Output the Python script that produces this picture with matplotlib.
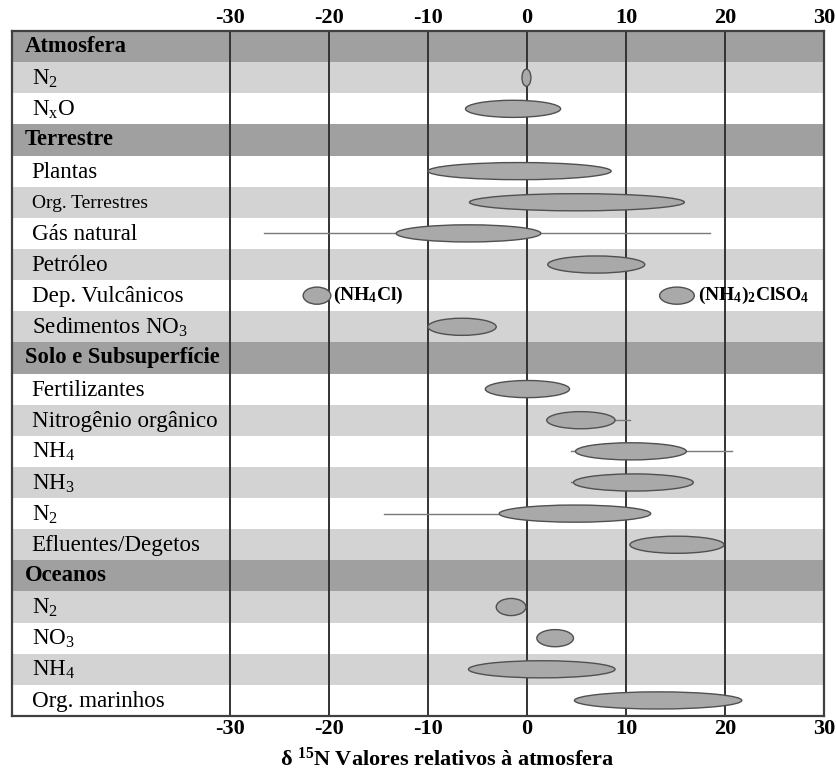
import matplotlib
matplotlib.use("Agg")
import matplotlib.pyplot as plt
from matplotlib.patches import Ellipse

plt.rcParams['font.family'] = ['Liberation Serif', 'DejaVu Serif']
plt.rcParams['mathtext.fontset'] = 'custom'
plt.rcParams['mathtext.rm'] = 'Liberation Serif'
plt.rcParams['mathtext.it'] = 'Liberation Serif:italic'
plt.rcParams['mathtext.bf'] = 'Liberation Serif:bold'

# rows, top to bottom
labels = ["Atmosfera", r"N$_2$", r"N$_\mathrm{x}$O",
          "Terrestre", "Plantas", "Org. Terrestres", "Gás natural", "Petróleo",
          "Dep. Vulcânicos", r"Sedimentos NO$_3$",
          "Solo e Subsuperfície", "Fertilizantes", "Nitrogênio orgânico",
          r"NH$_4$", r"NH$_3$", r"N$_2$", "Efluentes/Degetos",
          "Oceanos", r"N$_2$", r"NO$_3$", r"NH$_4$", "Org. marinhos"]
headers = [0, 3, 10, 17]
bands = ['d', 'l', 'w', 'd', 'w', 'l', 'w', 'l', 'w', 'l', 'd',
         'w', 'l', 'w', 'l', 'w', 'l', 'd', 'l', 'w', 'l', 'w']

# d15N ranges (ellipses)
ell_row = [1, 2, 4, 5, 6, 7, 8, 8, 9, 11, 12, 13, 14, 15, 16, 18, 19, 20, 21]
ell_lo = [-0.5, -6.2, -10.0, -5.8, -13.2, 2.1, -22.6, 13.4, -10.0, -4.2,
          2.0, 4.9, 4.7, -2.8, 10.4, -3.1, 1.0, -5.9, 4.8]
ell_hi = [0.4, 3.4, 8.5, 15.9, 1.4, 11.9, -19.8, 16.9, -3.1, 4.3,
          8.9, 16.1, 16.8, 12.5, 19.9, -0.1, 4.7, 8.9, 21.7]

# extended ranges (thin lines)
line_row = [6, 12, 13, 14, 15]
line_lo = [-26.6, 8.9, 4.5, 4.5, -14.4]
line_hi = [18.5, 10.4, 20.7, 5.0, -2.8]

# annotations for volcanic deposits
note_row = [8, 8]
note_x = [-19.6, 17.3]
note_txt = [r"(NH$_\mathbf{4}$Cl)", r"(NH$_\mathbf{4}$)$_\mathbf{2}$ClSO$_\mathbf{4}$"]

ticks = [-30, -20, -10, 0, 10, 20, 30]

band_col = {'d': '#a0a0a0', 'l': '#d3d3d3', 'w': '#ffffff'}

fig = plt.figure(figsize=(8.37, 7.71), dpi=100)
ax = fig.add_axes([12 / 837, 1 - 716 / 771, 812 / 837, 685 / 771])
x_left = -52.0
ax.set_xlim(x_left, 30)
n = len(labels)
ax.set_ylim(n - 0.5, -0.5)

for i, b in enumerate(bands):
    ax.axhspan(i - 0.5, i + 0.5, color=band_col[b], lw=0, zorder=0)

for t in ticks[:-1]:
    ax.axvline(t, color='#333333', lw=1.4, zorder=2)

for r, lo, hi in zip(line_row, line_lo, line_hi):
    ax.plot([lo, hi], [r, r], color='#7a7a7a', lw=1.0, zorder=2.5)

for r, lo, hi in zip(ell_row, ell_lo, ell_hi):
    e = Ellipse(((lo + hi) / 2, r), hi - lo, 0.55, facecolor='#a9a9a9',
                edgecolor='#505050', lw=1.0, zorder=3)
    ax.add_patch(e)

for r, x, s in zip(note_row, note_x, note_txt):
    ax.text(x, r, s, fontsize=14, fontweight='bold', va='center', ha='left',
            zorder=4)

for i, lab in enumerate(labels):
    if i in headers:
        ax.text(x_left + 1.3, i, lab, fontsize=16.3, fontweight='bold',
                va='center', ha='left', zorder=4)
    else:
        fs = 14 if lab == "Org. Terrestres" else 16.6
        ax.text(x_left + 2.0, i + 0.03, lab, fontsize=fs, va='center',
                ha='left', zorder=4)

ax.set_xticks(ticks)
ax.set_xticklabels([str(t) for t in ticks], fontsize=16, fontweight='bold')
ax.tick_params(axis='x', length=0, pad=2, top=True, labeltop=True,
               bottom=True, labelbottom=True)
ax.set_yticks([])
for sp in ax.spines.values():
    sp.set_color('#404040')
    sp.set_linewidth(1.6)
    sp.set_zorder(5)

fig.text(447 / 837, 1 - 759 / 771, r"δ $^{\mathbf{15}}$N Valores relativos à atmosfera",
         fontsize=16, fontweight='bold', ha='center', va='center')

fig.savefig('out.png', dpi=100)
